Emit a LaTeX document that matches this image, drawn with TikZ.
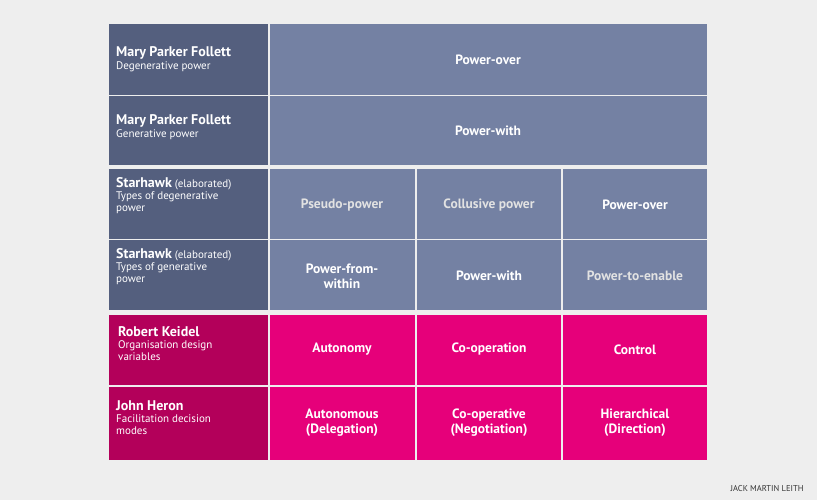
\documentclass[tikz,border=0pt]{standalone}
\usepackage{fontspec}
\setmainfont{PT Sans}
\definecolor{bgGray}{HTML}{EEEEEE}
\definecolor{slateDark}{HTML}{545F7E}
\definecolor{slateLight}{HTML}{7481A3}
\definecolor{pinkDark}{HTML}{B3005A}
\definecolor{pinkLight}{HTML}{E6007A}
\definecolor{softText}{HTML}{E2E2E2}
\tikzset{
  cell/.style={inner sep=0pt, outer sep=0pt},
  head/.style={anchor=north west, align=left, text=white, font=\fontsize{11}{12}\selectfont, inner sep=0pt},
  big/.style={text=white, font=\bfseries\fontsize{13.5}{15}\selectfont, align=center},
}
\begin{document}
\begin{tikzpicture}[x=1pt,y=-1pt]
    % Fondo
    \fill[bgGray] (0,0) rectangle (817,500);
    \useasboundingbox (0,0) rectangle (817,500);

    % Filas azules
    \foreach \ya/\yb in {24/95,96/165,169/239,240/310} {
        \fill[slateDark] (109,\ya) rectangle (268,\yb);
    }
    \fill[slateLight] (270,24) rectangle (707,95);
    \fill[slateLight] (270,96) rectangle (707,165);
    \foreach \xa/\xb in {270/415,417/561,563/707} {
        \fill[slateLight] (\xa,169) rectangle (\xb,239);
        \fill[slateLight] (\xa,240) rectangle (\xb,310);
    }

    % Filas rosas
    \foreach \ya/\yb in {315/385,387/460} {
        \fill[pinkDark] (109,\ya) rectangle (268,\yb);
        \foreach \xa/\xb in {270/415,417/561,563/707} {
            \fill[pinkLight] (\xa,\ya) rectangle (\xb,\yb);
        }
    }

    % Etiquetas izquierda
    \node[head] (mpf1) at (116,46) {{\bfseries\fontsize{14}{15}\selectfont Mary Parker Follett}\\[1pt]Degenerative power};
    \node[head] (mpf2) at (116,114) {{\bfseries\fontsize{14}{15}\selectfont Mary Parker Follett}\\[1pt]Generative power};
    \node[head] (sh1) at (116,177) {{\bfseries\fontsize{14}{15}\selectfont Starhawk} (elaborated)\\Types of degenerative\\power};
    \node[head] (sh2) at (116,248) {{\bfseries\fontsize{14}{15}\selectfont Starhawk} (elaborated)\\Types of generative\\power};
    \node[head] (rk) at (118,326) {{\bfseries\fontsize{14}{15}\selectfont Robert Keidel}\\Organisation design\\variables};
    \node[head] (jh) at (116,400) {{\bfseries\fontsize{14}{15}\selectfont John Heron}\\Facilitation decision\\modes};

    % Contenido
    \node[big] (po) at (488,60) {Power-over};
    \node[big] (pw) at (488,131) {Power-with};
    \node[big, text=softText] (pseudo) at (342,205) {Pseudo-power};
    \node[big, text=softText] (coll) at (489,205) {Collusive power};
    \node[big] (po2) at (635,205) {Power-over};
    \node[big] (pfw) at (342,276) {Power-from-\\within};
    \node[big] (pw2) at (489,276) {Power-with};
    \node[big, text=softText] (pte) at (635,276) {Power-to-enable};
    \node[big] (aut) at (342,349) {Autonomy};
    \node[big] (coop) at (489,349) {Co-operation};
    \node[big] (ctrl) at (635,350) {Control};
    \node[big] (auto) at (342,423) {Autonomous\\(Delegation)};
    \node[big] (cooper) at (489,423) {Co-operative\\(Negotiation)};
    \node[big] (hier) at (635,423) {Hierarchical\\(Direction)};

    % Firma
    \node[anchor=east, font=\fontsize{8.5}{9}\selectfont, text=black!80] (sig) at (807,489) {JACK MARTIN LEITH};
\end{tikzpicture}
\end{document}
